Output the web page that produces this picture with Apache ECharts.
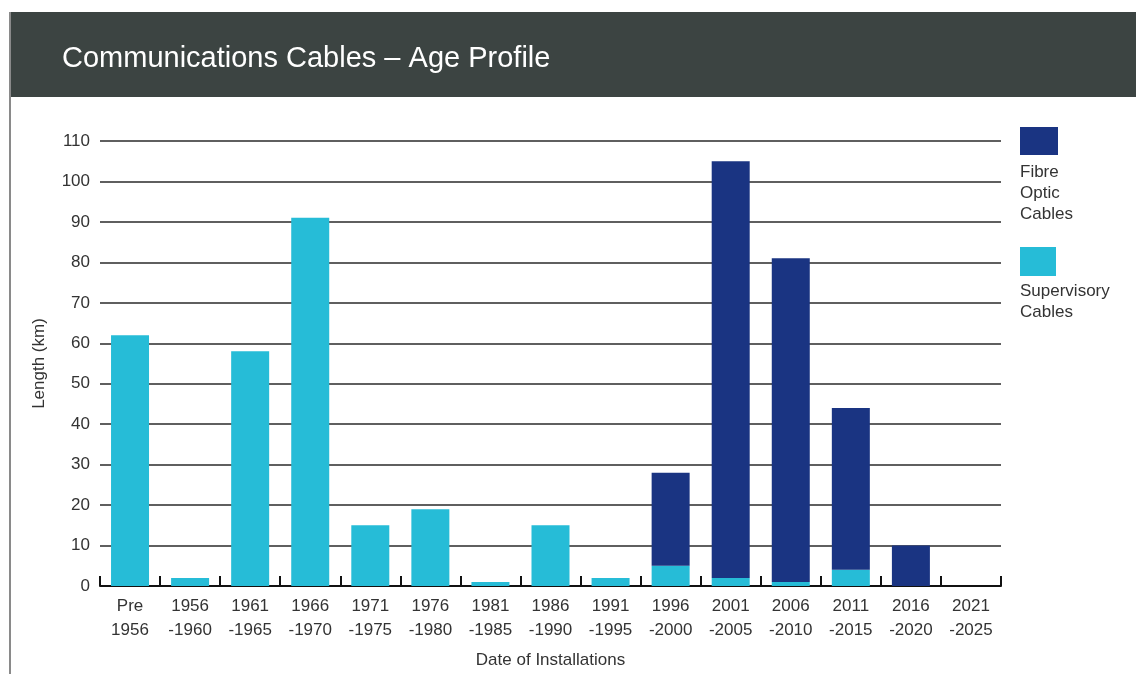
<!DOCTYPE html>
<html><head><meta charset="utf-8">
<script src="https://cdn.jsdelivr.net/npm/echarts@6/dist/echarts.min.js"></script>
<style>html,body{margin:0;padding:0;background:#fff}#c{width:1136px;height:674px}</style>
</head><body><div id="c"></div>
<script>
const categories = ['Pre\n1956','1956\n-1960','1961\n-1965','1966\n-1970','1971\n-1975','1976\n-1980','1981\n-1985','1986\n-1990','1991\n-1995','1996\n-2000','2001\n-2005','2006\n-2010','2011\n-2015','2016\n-2020','2021\n-2025'];
const supervisory = [62, 2, 58, 91, 15, 19, 1, 15, 2, 5, 2, 1, 4, 0, 0];
const fibre = [0, 0, 0, 0, 0, 0, 0, 0, 0, 23, 103, 80, 40, 10, 0];
const seriesNames = ['Fibre\nOptic\nCables', 'Supervisory\nCables'];
const seriesColors = ['#1a3482', '#26bcd7'];
const yTicks = {min: 0, max: 110, interval: 10};
const titleText = 'Communications Cables – Age Profile';
const xName = 'Date of Installations';
const yName = 'Length (km)';

const chart = echarts.init(document.getElementById('c'), null, {renderer: 'canvas'});
const font = 'Liberation Sans, Arial, sans-serif';
chart.setOption({
  animation: false,
  textStyle: {fontFamily: font},
  title: {
    text: titleText, left: 62, top: 44, padding: 0,
    textStyle: {color: '#ffffff', fontSize: 29, fontWeight: 'normal', fontFamily: font}
  },
  grid: {left: 100, right: 135, top: 141, bottom: 87},
  xAxis: {
    type: 'category', data: categories,
    name: xName, nameLocation: 'middle', nameGap: 66,
    nameTextStyle: {color: '#333', fontSize: 17},
    axisLine: {lineStyle: {color: '#111', width: 2}},
    axisTick: {show: true, inside: true, length: 10, lineStyle: {color: '#111', width: 2}},
    axisLabel: {color: '#333', fontSize: 17, lineHeight: 24, margin: 8}
  },
  yAxis: {
    type: 'value', min: yTicks.min, max: yTicks.max, interval: yTicks.interval,
    name: yName, nameLocation: 'middle', nameGap: 52,
    nameTextStyle: {color: '#333', fontSize: 17},
    axisLine: {show: false}, axisTick: {show: false},
    axisLabel: {color: '#333', fontSize: 17, margin: 10},
    splitLine: {lineStyle: {color: '#2a2a2a', width: 1.6}}
  },
  graphic: [
    {type: 'rect', shape: {x: 10, y: 12, width: 1126, height: 85}, style: {fill: '#3c4442'}, z: -1},
    {type: 'line', shape: {x1: 10, y1: 12, x2: 10, y2: 674}, style: {stroke: '#8a8a8a', lineWidth: 2}, z: -1},
    {type: 'rect', shape: {x: 1020, y: 127, width: 38, height: 28}, style: {fill: seriesColors[0]}},
    {type: 'text', left: 1020, top: 162, style: {text: seriesNames[0], fill: '#333', font: '17px ' + font, lineHeight: 21}},
    {type: 'rect', shape: {x: 1020, y: 247, width: 36, height: 29}, style: {fill: seriesColors[1]}},
    {type: 'text', left: 1020, top: 281, style: {text: seriesNames[1], fill: '#333', font: '17px ' + font, lineHeight: 21}}
  ],
  series: [
    {name: 'Supervisory', type: 'bar', stack: 'a', data: supervisory, barWidth: 38, itemStyle: {color: seriesColors[1]}},
    {name: 'Fibre', type: 'bar', stack: 'a', data: fibre, barWidth: 38, itemStyle: {color: seriesColors[0]}}
  ]
});
</script></body></html>
